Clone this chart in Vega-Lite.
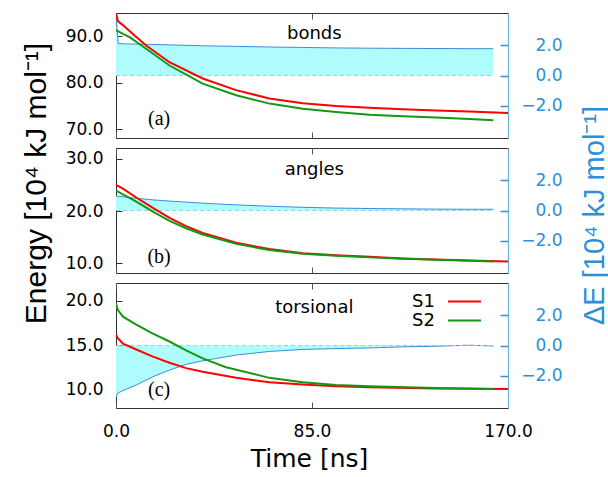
{
  "$schema": "https://vega.github.io/schema/vega-lite/v6.json",
  "padding": {"left": 20, "top": 12, "right": 0, "bottom": 0},
  "autosize": {"type": "pad"},
  "bounds": "flush",
  "spacing": 10,
  "datasets": {
    "energy": [
      {"p": "bonds", "s": "S1", "t": 0, "E": 94.9},
      {"p": "bonds", "s": "S1", "t": 0.9, "E": 93.2},
      {"p": "bonds", "s": "S1", "t": 3, "E": 92.4},
      {"p": "bonds", "s": "S1", "t": 7.3, "E": 90.5},
      {"p": "bonds", "s": "S1", "t": 13.1, "E": 88.0},
      {"p": "bonds", "s": "S1", "t": 23.2, "E": 84.4},
      {"p": "bonds", "s": "S1", "t": 37.6, "E": 80.9},
      {"p": "bonds", "s": "S1", "t": 52.1, "E": 78.4},
      {"p": "bonds", "s": "S1", "t": 66.5, "E": 76.6},
      {"p": "bonds", "s": "S1", "t": 81, "E": 75.6},
      {"p": "bonds", "s": "S1", "t": 95.4, "E": 75.0},
      {"p": "bonds", "s": "S1", "t": 109.9, "E": 74.6},
      {"p": "bonds", "s": "S1", "t": 124.3, "E": 74.3},
      {"p": "bonds", "s": "S1", "t": 138.7, "E": 74.0},
      {"p": "bonds", "s": "S1", "t": 153.2, "E": 73.8},
      {"p": "bonds", "s": "S1", "t": 170, "E": 73.5},
      {"p": "bonds", "s": "S2", "t": 0, "E": 91.3},
      {"p": "bonds", "s": "S2", "t": 3, "E": 90.5},
      {"p": "bonds", "s": "S2", "t": 5.9, "E": 89.8},
      {"p": "bonds", "s": "S2", "t": 13.1, "E": 87.3},
      {"p": "bonds", "s": "S2", "t": 23.2, "E": 83.7},
      {"p": "bonds", "s": "S2", "t": 37.6, "E": 79.8},
      {"p": "bonds", "s": "S2", "t": 52.1, "E": 77.3},
      {"p": "bonds", "s": "S2", "t": 66.5, "E": 75.5},
      {"p": "bonds", "s": "S2", "t": 81, "E": 74.4},
      {"p": "bonds", "s": "S2", "t": 95.4, "E": 73.7},
      {"p": "bonds", "s": "S2", "t": 109.9, "E": 73.1},
      {"p": "bonds", "s": "S2", "t": 124.3, "E": 72.8},
      {"p": "bonds", "s": "S2", "t": 138.7, "E": 72.5},
      {"p": "bonds", "s": "S2", "t": 153.2, "E": 72.2},
      {"p": "bonds", "s": "S2", "t": 163.6, "E": 71.9},
      {"p": "angles", "s": "S1", "t": 0, "E": 25.0},
      {"p": "angles", "s": "S1", "t": 3, "E": 24.3},
      {"p": "angles", "s": "S1", "t": 8.8, "E": 22.6},
      {"p": "angles", "s": "S1", "t": 16, "E": 20.6},
      {"p": "angles", "s": "S1", "t": 23.2, "E": 18.7},
      {"p": "angles", "s": "S1", "t": 30.4, "E": 17.1},
      {"p": "angles", "s": "S1", "t": 37.6, "E": 15.8},
      {"p": "angles", "s": "S1", "t": 52.1, "E": 13.9},
      {"p": "angles", "s": "S1", "t": 66.5, "E": 12.7},
      {"p": "angles", "s": "S1", "t": 81, "E": 11.9},
      {"p": "angles", "s": "S1", "t": 95.4, "E": 11.5},
      {"p": "angles", "s": "S1", "t": 109.9, "E": 11.2},
      {"p": "angles", "s": "S1", "t": 124.3, "E": 10.9},
      {"p": "angles", "s": "S1", "t": 138.7, "E": 10.7},
      {"p": "angles", "s": "S1", "t": 153.2, "E": 10.5},
      {"p": "angles", "s": "S1", "t": 170, "E": 10.3},
      {"p": "angles", "s": "S2", "t": 0, "E": 23.9},
      {"p": "angles", "s": "S2", "t": 3, "E": 23.2},
      {"p": "angles", "s": "S2", "t": 8.8, "E": 21.8},
      {"p": "angles", "s": "S2", "t": 16, "E": 19.9},
      {"p": "angles", "s": "S2", "t": 23.2, "E": 18.1},
      {"p": "angles", "s": "S2", "t": 30.4, "E": 16.7},
      {"p": "angles", "s": "S2", "t": 37.6, "E": 15.5},
      {"p": "angles", "s": "S2", "t": 52.1, "E": 13.7},
      {"p": "angles", "s": "S2", "t": 66.5, "E": 12.5},
      {"p": "angles", "s": "S2", "t": 81, "E": 11.8},
      {"p": "angles", "s": "S2", "t": 95.4, "E": 11.4},
      {"p": "angles", "s": "S2", "t": 109.9, "E": 11.1},
      {"p": "angles", "s": "S2", "t": 124.3, "E": 10.85},
      {"p": "angles", "s": "S2", "t": 138.7, "E": 10.65},
      {"p": "angles", "s": "S2", "t": 153.2, "E": 10.45},
      {"p": "angles", "s": "S2", "t": 163.6, "E": 10.3},
      {"p": "torsional", "s": "S1", "t": 0, "E": 16.2},
      {"p": "torsional", "s": "S1", "t": 0.7, "E": 15.8},
      {"p": "torsional", "s": "S1", "t": 3, "E": 15.15},
      {"p": "torsional", "s": "S1", "t": 8.8, "E": 14.5},
      {"p": "torsional", "s": "S1", "t": 16, "E": 13.7},
      {"p": "torsional", "s": "S1", "t": 23.2, "E": 13.0},
      {"p": "torsional", "s": "S1", "t": 30.4, "E": 12.4},
      {"p": "torsional", "s": "S1", "t": 37.6, "E": 12.0},
      {"p": "torsional", "s": "S1", "t": 52.1, "E": 11.3},
      {"p": "torsional", "s": "S1", "t": 66.5, "E": 10.8},
      {"p": "torsional", "s": "S1", "t": 81, "E": 10.55},
      {"p": "torsional", "s": "S1", "t": 95.4, "E": 10.35},
      {"p": "torsional", "s": "S1", "t": 109.9, "E": 10.25},
      {"p": "torsional", "s": "S1", "t": 138.7, "E": 10.1},
      {"p": "torsional", "s": "S1", "t": 170, "E": 10.05},
      {"p": "torsional", "s": "S2", "t": 0, "E": 19.7},
      {"p": "torsional", "s": "S2", "t": 0.7, "E": 19.0},
      {"p": "torsional", "s": "S2", "t": 3, "E": 18.2},
      {"p": "torsional", "s": "S2", "t": 8.8, "E": 17.3},
      {"p": "torsional", "s": "S2", "t": 16, "E": 16.3},
      {"p": "torsional", "s": "S2", "t": 23.2, "E": 15.4},
      {"p": "torsional", "s": "S2", "t": 30.4, "E": 14.4},
      {"p": "torsional", "s": "S2", "t": 37.6, "E": 13.5},
      {"p": "torsional", "s": "S2", "t": 47.7, "E": 12.5},
      {"p": "torsional", "s": "S2", "t": 66.5, "E": 11.3},
      {"p": "torsional", "s": "S2", "t": 81, "E": 10.8},
      {"p": "torsional", "s": "S2", "t": 95.4, "E": 10.5},
      {"p": "torsional", "s": "S2", "t": 109.9, "E": 10.35},
      {"p": "torsional", "s": "S2", "t": 138.7, "E": 10.15},
      {"p": "torsional", "s": "S2", "t": 163.6, "E": 10.05}
    ],
    "delta": [
      {"p": "bonds", "t": 0, "dE": 3.9},
      {"p": "bonds", "t": 1.0, "dE": 2.1},
      {"p": "bonds", "t": 5, "dE": 2.07},
      {"p": "bonds", "t": 13, "dE": 2.05},
      {"p": "bonds", "t": 25, "dE": 2.0},
      {"p": "bonds", "t": 37.6, "dE": 1.95},
      {"p": "bonds", "t": 52, "dE": 1.91},
      {"p": "bonds", "t": 66.5, "dE": 1.87},
      {"p": "bonds", "t": 81, "dE": 1.84},
      {"p": "bonds", "t": 95, "dE": 1.81},
      {"p": "bonds", "t": 110, "dE": 1.79},
      {"p": "bonds", "t": 124, "dE": 1.78},
      {"p": "bonds", "t": 139, "dE": 1.77},
      {"p": "bonds", "t": 153, "dE": 1.76},
      {"p": "bonds", "t": 163.6, "dE": 1.76},
      {"p": "angles", "t": 0, "dE": 0.95},
      {"p": "angles", "t": 3, "dE": 0.9},
      {"p": "angles", "t": 8.8, "dE": 0.8},
      {"p": "angles", "t": 16, "dE": 0.7},
      {"p": "angles", "t": 23, "dE": 0.62},
      {"p": "angles", "t": 37.6, "dE": 0.48},
      {"p": "angles", "t": 52, "dE": 0.37},
      {"p": "angles", "t": 66.5, "dE": 0.28},
      {"p": "angles", "t": 81, "dE": 0.21},
      {"p": "angles", "t": 95, "dE": 0.16},
      {"p": "angles", "t": 110, "dE": 0.13},
      {"p": "angles", "t": 124, "dE": 0.11},
      {"p": "angles", "t": 139, "dE": 0.09},
      {"p": "angles", "t": 153, "dE": 0.08},
      {"p": "angles", "t": 163.6, "dE": 0.08},
      {"p": "torsional", "t": 0, "dE": -3.45},
      {"p": "torsional", "t": 0.7, "dE": -3.13},
      {"p": "torsional", "t": 3, "dE": -2.96},
      {"p": "torsional", "t": 8.8, "dE": -2.59},
      {"p": "torsional", "t": 16, "dE": -2.05},
      {"p": "torsional", "t": 23.2, "dE": -1.61},
      {"p": "torsional", "t": 30.4, "dE": -1.24},
      {"p": "torsional", "t": 37.6, "dE": -1.0},
      {"p": "torsional", "t": 52.1, "dE": -0.63},
      {"p": "torsional", "t": 66.5, "dE": -0.39},
      {"p": "torsional", "t": 81, "dE": -0.26},
      {"p": "torsional", "t": 95.4, "dE": -0.2},
      {"p": "torsional", "t": 109.9, "dE": -0.16},
      {"p": "torsional", "t": 124.3, "dE": -0.09},
      {"p": "torsional", "t": 138.7, "dE": -0.05},
      {"p": "torsional", "t": 153.2, "dE": 0.02},
      {"p": "torsional", "t": 163.6, "dE": -0.03}
    ]
  },
  "vconcat": [
    {
      "width": 392,
      "height": 125,
      "layer": [
        {
          "data": {"name": "delta"},
          "transform": [{"filter": "datum.p === 'bonds'"}],
          "mark": {"type": "area", "color": "#aefcfc", "clip": true},
          "encoding": {
            "x": {"field": "t", "type": "quantitative", "scale": {"domain": [0, 170], "nice": false, "zero": false},
                  "axis": {"orient": "top", "values": [0, 85, 170], "labels": false, "title": null, "tickSize": -6, "tickColor": "#555", "domain": false}},
            "y": {"field": "dE", "type": "quantitative", "scale": {"domain": [-4.1, 4.1], "nice": false, "zero": false},
                  "axis": {"orient": "right", "values": [-2, 0, 2], "format": ".1f", "title": null, "tickSize": -8, "tickColor": "#3b8fd6", "tickWidth": 1.5, "labelPadding": 62, "labelAlign": "right", "labelColor": "#2e8fd8", "labelFontSize": 17, "domain": true, "domainColor": "#6aaee2", "domainWidth": 1.2}},
            "y2": {"datum": 0}
          }
        },
        {
          "data": {"name": "delta"},
          "transform": [{"filter": "datum.p === 'bonds'"}],
          "mark": {"type": "line", "color": "#3b8fd6", "strokeWidth": 1, "clip": true},
          "encoding": {
            "x": {"field": "t", "type": "quantitative", "axis": null},
            "y": {"field": "dE", "type": "quantitative", "scale": {"domain": [-4.1, 4.1], "nice": false, "zero": false}, "axis": null}
          }
        },
        {
          "data": {"name": "delta"},
          "transform": [{"filter": "datum.p === 'bonds'"}],
          "mark": {"type": "line", "color": "#8fd4ee", "strokeWidth": 1, "strokeDash": [4, 3]},
          "encoding": {
            "x": {"field": "t", "type": "quantitative", "axis": null},
            "y": {"datum": 0, "type": "quantitative", "scale": {"domain": [-4.1, 4.1], "nice": false, "zero": false}, "axis": null}
          }
        },
        {
          "data": {"name": "energy"},
          "transform": [{"filter": "datum.p === 'bonds'"}],
          "mark": {"type": "line", "strokeWidth": 2, "clip": true},
          "encoding": {
            "x": {"field": "t", "type": "quantitative",
                  "axis": {"orient": "bottom", "values": [0, 85, 170], "labels": false, "title": null, "tickSize": -6, "tickColor": "#555", "domain": false}},
            "y": {"field": "E", "type": "quantitative", "scale": {"domain": [68.1, 95], "nice": false, "zero": false},
                  "axis": {"orient": "left", "values": [70, 80, 90], "format": ".1f", "title": null, "tickSize": -6, "tickColor": "#333", "labelPadding": 19, "labelFontSize": 17, "domain": false}},
            "color": {"field": "s", "type": "nominal", "scale": {"domain": ["S1", "S2"], "range": ["#ff0000", "#129812"]},
                      "legend": {"orient": "none", "legendX": 339, "legendY": 279, "title": null, "symbolType": "M-2,0H2", "symbolSize": 272, "symbolStrokeWidth": 2, "symbolFillColor": "transparent", "labelFontSize": 18, "labelFont": "DejaVu Sans", "labelColor": "#000", "labelAlign": "right", "labelOffset": -39, "rowPadding": 0, "padding": 0}}
          }
        },
        {
          "data": {"values": [{"name": "bonds", "tag": "(a)"}]},
          "mark": {"type": "text", "font": "DejaVu Sans", "fontSize": 18, "align": "center", "baseline": "alphabetic", "color": "#000"},
          "encoding": {
            "x": {"datum": 86, "type": "quantitative", "axis": null},
            "y": {"datum": 89.4, "type": "quantitative", "scale": {"domain": [68.1, 95], "nice": false, "zero": false}, "axis": null},
            "text": {"field": "name"}
          }
        },
        {
          "data": {"values": [{"name": "bonds", "tag": "(a)"}]},
          "mark": {"type": "text", "font": "Liberation Serif", "fontSize": 20, "align": "center", "baseline": "alphabetic", "color": "#000"},
          "encoding": {
            "x": {"datum": 18.7, "type": "quantitative", "axis": null},
            "y": {"datum": 70.86, "type": "quantitative", "scale": {"domain": [68.1, 95], "nice": false, "zero": false}, "axis": null},
            "text": {"field": "tag"}
          }
        }
      ],
      "resolve": {"scale": {"y": "independent"}, "axis": {"x": "independent"}}
    },
    {
      "width": 392,
      "height": 125,
      "layer": [
        {
          "data": {"name": "delta"},
          "transform": [{"filter": "datum.p === 'angles'"}],
          "mark": {"type": "area", "color": "#aefcfc", "clip": true},
          "encoding": {
            "x": {"field": "t", "type": "quantitative", "scale": {"domain": [0, 170], "nice": false, "zero": false},
                  "axis": {"orient": "top", "values": [0, 85, 170], "labels": false, "title": null, "tickSize": -6, "tickColor": "#555", "domain": false}},
            "y": {"field": "dE", "type": "quantitative", "scale": {"domain": [-4.1, 4.1], "nice": false, "zero": false},
                  "axis": {"orient": "right", "values": [-2, 0, 2], "format": ".1f", "tickSize": -8, "tickColor": "#3b8fd6", "tickWidth": 1.5, "labelPadding": 62, "labelAlign": "right", "labelColor": "#2e8fd8", "labelFontSize": 17, "domain": true, "domainColor": "#6aaee2", "domainWidth": 1.2,
                           "title": "ΔE [10⁴ kJ mol⁻¹]", "titleColor": "#2e8fd8", "titleFont": "Liberation Sans", "titleFontSize": 29, "titleFontWeight": "normal", "titleAngle": 270, "titleX": 95, "titleY": 67, "titleAlign": "center", "titleBaseline": "alphabetic"}},
            "y2": {"datum": 0}
          }
        },
        {
          "data": {"name": "delta"},
          "transform": [{"filter": "datum.p === 'angles'"}],
          "mark": {"type": "line", "color": "#3b8fd6", "strokeWidth": 1, "clip": true},
          "encoding": {
            "x": {"field": "t", "type": "quantitative", "axis": null},
            "y": {"field": "dE", "type": "quantitative", "scale": {"domain": [-4.1, 4.1], "nice": false, "zero": false}, "axis": null}
          }
        },
        {
          "data": {"name": "delta"},
          "transform": [{"filter": "datum.p === 'angles'"}],
          "mark": {"type": "line", "color": "#8fd4ee", "strokeWidth": 1, "strokeDash": [4, 3]},
          "encoding": {
            "x": {"field": "t", "type": "quantitative", "axis": null},
            "y": {"datum": 0, "type": "quantitative", "scale": {"domain": [-4.1, 4.1], "nice": false, "zero": false}, "axis": null}
          }
        },
        {
          "data": {"name": "energy"},
          "transform": [{"filter": "datum.p === 'angles'"}],
          "mark": {"type": "line", "strokeWidth": 2, "clip": true},
          "encoding": {
            "x": {"field": "t", "type": "quantitative",
                  "axis": {"orient": "bottom", "values": [0, 85, 170], "labels": false, "title": null, "tickSize": -6, "tickColor": "#555", "domain": false}},
            "y": {"field": "E", "type": "quantitative", "scale": {"domain": [8.1, 32.1], "nice": false, "zero": false},
                  "axis": {"orient": "left", "values": [10, 20, 30], "format": ".1f", "tickSize": -6, "tickColor": "#333", "labelPadding": 19, "labelFontSize": 17, "domain": false,
                           "title": "Energy [10⁴ kJ mol⁻¹]", "titleColor": "#000", "titleFont": "Liberation Sans", "titleFontSize": 30, "titleFontWeight": "normal", "titleAngle": 270, "titleX": -71, "titleY": 35, "titleAlign": "center", "titleBaseline": "alphabetic"}},
            "color": {"field": "s", "type": "nominal", "scale": {"domain": ["S1", "S2"], "range": ["#ff0000", "#129812"]},
                      "legend": {"orient": "none", "legendX": 339, "legendY": 279, "title": null, "symbolType": "M-2,0H2", "symbolSize": 272, "symbolStrokeWidth": 2, "symbolFillColor": "transparent", "labelFontSize": 18, "labelFont": "DejaVu Sans", "labelColor": "#000", "labelAlign": "right", "labelOffset": -39, "rowPadding": 0, "padding": 0}}
          }
        },
        {
          "data": {"values": [{"name": "angles", "tag": "(b)"}]},
          "mark": {"type": "text", "font": "DejaVu Sans", "fontSize": 18, "align": "center", "baseline": "alphabetic", "color": "#000"},
          "encoding": {
            "x": {"datum": 86, "type": "quantitative", "axis": null},
            "y": {"datum": 27.0, "type": "quantitative", "scale": {"domain": [8.1, 32.1], "nice": false, "zero": false}, "axis": null},
            "text": {"field": "name"}
          }
        },
        {
          "data": {"values": [{"name": "angles", "tag": "(b)"}]},
          "mark": {"type": "text", "font": "Liberation Serif", "fontSize": 20, "align": "center", "baseline": "alphabetic", "color": "#000"},
          "encoding": {
            "x": {"datum": 18.7, "type": "quantitative", "axis": null},
            "y": {"datum": 10.1, "type": "quantitative", "scale": {"domain": [8.1, 32.1], "nice": false, "zero": false}, "axis": null},
            "text": {"field": "tag"}
          }
        }
      ],
      "resolve": {"scale": {"y": "independent"}, "axis": {"x": "independent"}}
    },
    {
      "width": 392,
      "height": 125,
      "layer": [
        {
          "data": {"name": "delta"},
          "transform": [{"filter": "datum.p === 'torsional'"}],
          "mark": {"type": "area", "color": "#aefcfc", "clip": true},
          "encoding": {
            "x": {"field": "t", "type": "quantitative", "scale": {"domain": [0, 170], "nice": false, "zero": false},
                  "axis": {"orient": "top", "values": [0, 85, 170], "labels": false, "title": null, "tickSize": -6, "tickColor": "#555", "domain": false}},
            "y": {"field": "dE", "type": "quantitative", "scale": {"domain": [-4.1, 4.1], "nice": false, "zero": false},
                  "axis": {"orient": "right", "values": [-2, 0, 2], "format": ".1f", "title": null, "tickSize": -8, "tickColor": "#3b8fd6", "tickWidth": 1.5, "labelPadding": 62, "labelAlign": "right", "labelColor": "#2e8fd8", "labelFontSize": 17, "domain": true, "domainColor": "#6aaee2", "domainWidth": 1.2}},
            "y2": {"datum": 0}
          }
        },
        {
          "data": {"name": "delta"},
          "transform": [{"filter": "datum.p === 'torsional'"}],
          "mark": {"type": "line", "color": "#3b8fd6", "strokeWidth": 1, "clip": true},
          "encoding": {
            "x": {"field": "t", "type": "quantitative", "axis": null},
            "y": {"field": "dE", "type": "quantitative", "scale": {"domain": [-4.1, 4.1], "nice": false, "zero": false}, "axis": null}
          }
        },
        {
          "data": {"name": "delta"},
          "transform": [{"filter": "datum.p === 'torsional'"}],
          "mark": {"type": "line", "color": "#8fd4ee", "strokeWidth": 1, "strokeDash": [4, 3]},
          "encoding": {
            "x": {"field": "t", "type": "quantitative", "axis": null},
            "y": {"datum": 0, "type": "quantitative", "scale": {"domain": [-4.1, 4.1], "nice": false, "zero": false}, "axis": null}
          }
        },
        {
          "data": {"name": "energy"},
          "transform": [{"filter": "datum.p === 'torsional'"}],
          "mark": {"type": "line", "strokeWidth": 2, "clip": true},
          "encoding": {
            "x": {"field": "t", "type": "quantitative",
                  "axis": {"orient": "bottom", "values": [0, 85, 170], "format": ".1f", "tickSize": -6, "tickColor": "#555", "domain": false, "labelPadding": 21, "labelFontSize": 17, "labelFlush": false, "labelOverlap": false,
                           "title": "Time [ns]", "titleColor": "#000", "titleFont": "DejaVu Sans", "titleFontSize": 25, "titleFontWeight": "normal", "titleX": 193, "titleY": 58, "titleAlign": "center", "titleBaseline": "alphabetic"}},
            "y": {"field": "E", "type": "quantitative", "scale": {"domain": [7.9, 22.0], "nice": false, "zero": false},
                  "axis": {"orient": "left", "values": [10, 15, 20], "format": ".1f", "title": null, "tickSize": -6, "tickColor": "#333", "labelPadding": 19, "labelFontSize": 17, "domain": false}},
            "color": {"field": "s", "type": "nominal", "scale": {"domain": ["S1", "S2"], "range": ["#ff0000", "#129812"]},
                      "legend": {"orient": "none", "legendX": 339, "legendY": 279, "title": null, "symbolType": "M-2,0H2", "symbolSize": 272, "symbolStrokeWidth": 2, "symbolFillColor": "transparent", "labelFontSize": 18, "labelFont": "DejaVu Sans", "labelColor": "#000", "labelAlign": "right", "labelOffset": -39, "rowPadding": 0, "padding": 0}}
          }
        },
        {
          "data": {"values": [{"name": "torsional", "tag": "(c)"}]},
          "mark": {"type": "text", "font": "DejaVu Sans", "fontSize": 18, "align": "center", "baseline": "alphabetic", "color": "#000"},
          "encoding": {
            "x": {"datum": 86, "type": "quantitative", "axis": null},
            "y": {"datum": 18.66, "type": "quantitative", "scale": {"domain": [7.9, 22.0], "nice": false, "zero": false}, "axis": null},
            "text": {"field": "name"}
          }
        },
        {
          "data": {"values": [{"name": "torsional", "tag": "(c)"}]},
          "mark": {"type": "text", "font": "Liberation Serif", "fontSize": 20, "align": "center", "baseline": "alphabetic", "color": "#000"},
          "encoding": {
            "x": {"datum": 18.7, "type": "quantitative", "axis": null},
            "y": {"datum": 9.22, "type": "quantitative", "scale": {"domain": [7.9, 22.0], "nice": false, "zero": false}, "axis": null},
            "text": {"field": "tag"}
          }
        }
      ],
      "resolve": {"scale": {"y": "independent"}, "axis": {"x": "independent"}}
    }
  ],
  "config": {
    "font": "DejaVu Sans",
    "view": {"stroke": "#333", "strokeWidth": 1},
    "axis": {"grid": false, "labelColor": "#000", "labelFont": "DejaVu Sans"},
    "line": {"strokeCap": "butt"}
  }
}
